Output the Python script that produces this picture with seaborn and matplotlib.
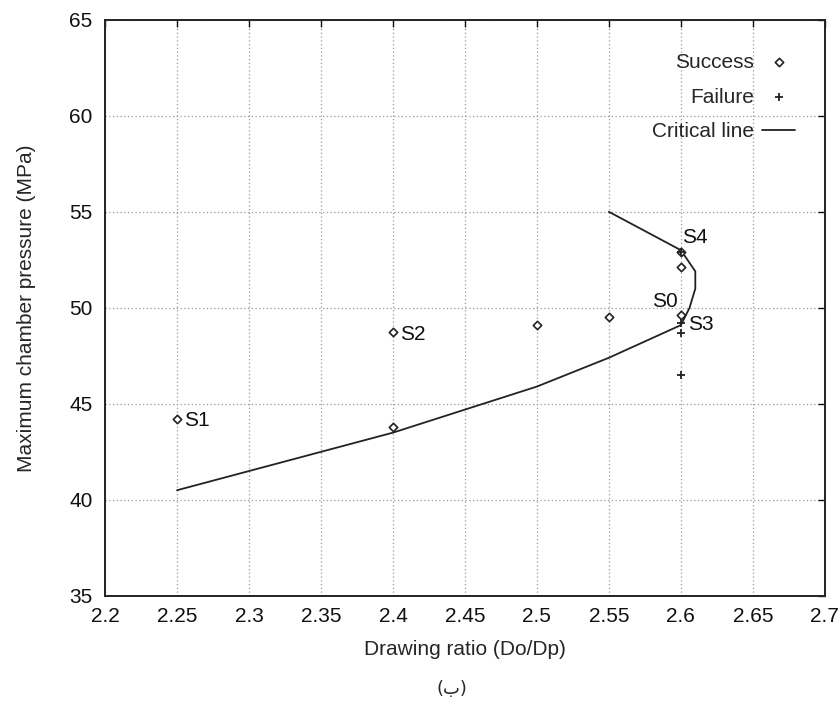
import matplotlib
matplotlib.use('Agg')
import matplotlib.pyplot as plt
import seaborn as sns
import pandas as pd

# data
success_x = [2.25, 2.4, 2.4, 2.5, 2.55, 2.6, 2.6, 2.6]
success_y = [44.2, 48.75, 43.8, 49.1, 49.5, 52.9, 52.1, 49.6]
failure_x = [2.6, 2.6, 2.6, 2.6]
failure_y = [52.9, 49.2, 48.7, 46.5]
crit_x = [2.25, 2.3, 2.35, 2.4, 2.45, 2.5, 2.55, 2.6, 2.606, 2.61, 2.61, 2.6, 2.55]
crit_y = [40.5, 41.5, 42.5, 43.5, 44.7, 45.9, 47.4, 49.1, 50.0, 51.0, 51.9, 53.0, 55.0]
labels = ['S1', 'S2', 'S4', 'S0', 'S3']
label_x = [2.25, 2.4, 2.6, 2.6, 2.6]
label_y = [44.2, 48.75, 52.9, 49.6, 49.2]

sns.set_style('white')
plt.rcParams['font.family'] = ['Liberation Sans', 'DejaVu Sans']
plt.rcParams['font.size'] = 15

df_s = pd.DataFrame({'x': success_x, 'y': success_y})
df_f = pd.DataFrame({'x': failure_x, 'y': failure_y})
df_c = pd.DataFrame({'x': crit_x, 'y': crit_y})

fig = plt.figure(figsize=(8.4, 7.06), dpi=100)
ax = fig.add_axes([0.125, 0.156, 0.857, 0.816])

sns.scatterplot(data=df_s, x='x', y='y', marker='D', s=18, facecolor='white',
                edgecolor='#222222', linewidth=1.2, ax=ax, label='Success', zorder=4)
sns.scatterplot(data=df_f, x='x', y='y', marker='+', s=34, color='#222222',
                linewidth=1.3, ax=ax, label='Failure', zorder=5)
sns.lineplot(data=df_c, x='x', y='y', sort=False, estimator=None, color='#222222',
             linewidth=1.3, ax=ax, label='Critical line', zorder=3)

# text labels next to points
offsets = {'S1': (5, -1, 'left', 'center'), 'S2': (5, -2, 'left', 'center'),
           'S4': (1, 4, 'left', 'bottom'), 'S0': (-2, 3, 'right', 'bottom'),
           'S3': (5, -1, 'left', 'center')}
for lab, lx, ly in zip(labels, label_x, label_y):
    dx, dy, ha, va = offsets[lab]
    ax.annotate(lab, (lx, ly), xytext=(dx, dy), textcoords='offset points',
                ha=ha, va=va, fontsize=15, color='#111111')

ax.set_xlim(2.2, 2.7)
ax.set_ylim(35, 65)
ax.set_xticks([2.2, 2.25, 2.3, 2.35, 2.4, 2.45, 2.5, 2.55, 2.6, 2.65, 2.7])
ax.set_xticklabels(['2.2', '2.25', '2.3', '2.35', '2.4', '2.45', '2.5', '2.55', '2.6', '2.65', '2.7'])
ax.set_yticks([35, 40, 45, 50, 55, 60, 65])
ax.grid(True, linestyle=(0, (1, 2)), color='#999999', linewidth=0.9)
ax.tick_params(direction='in', length=5, width=1, top=True, right=True,
               labelsize=15, colors='#111111')
ax.tick_params(axis='x', pad=8)
ax.tick_params(axis='y', pad=9)
for sp in ax.spines.values():
    sp.set_color('#222222')
    sp.set_linewidth(1.4)

ax.set_xlabel('Drawing ratio (Do/Dp)', fontsize=15, labelpad=10)
ax.set_ylabel('Maximum chamber pressure (MPa)', fontsize=15, labelpad=24)

leg = ax.legend(loc='upper right', frameon=False, markerfirst=False,
                fontsize=15, handlelength=1.6, handletextpad=0.4,
                labelspacing=0.75, bbox_to_anchor=(0.985, 0.975))

fig.text(0.538, 0.012, '(ب)', ha='center', va='bottom', fontsize=13,
         family=['DejaVu Sans'])

fig.savefig('out.png', dpi=100)
